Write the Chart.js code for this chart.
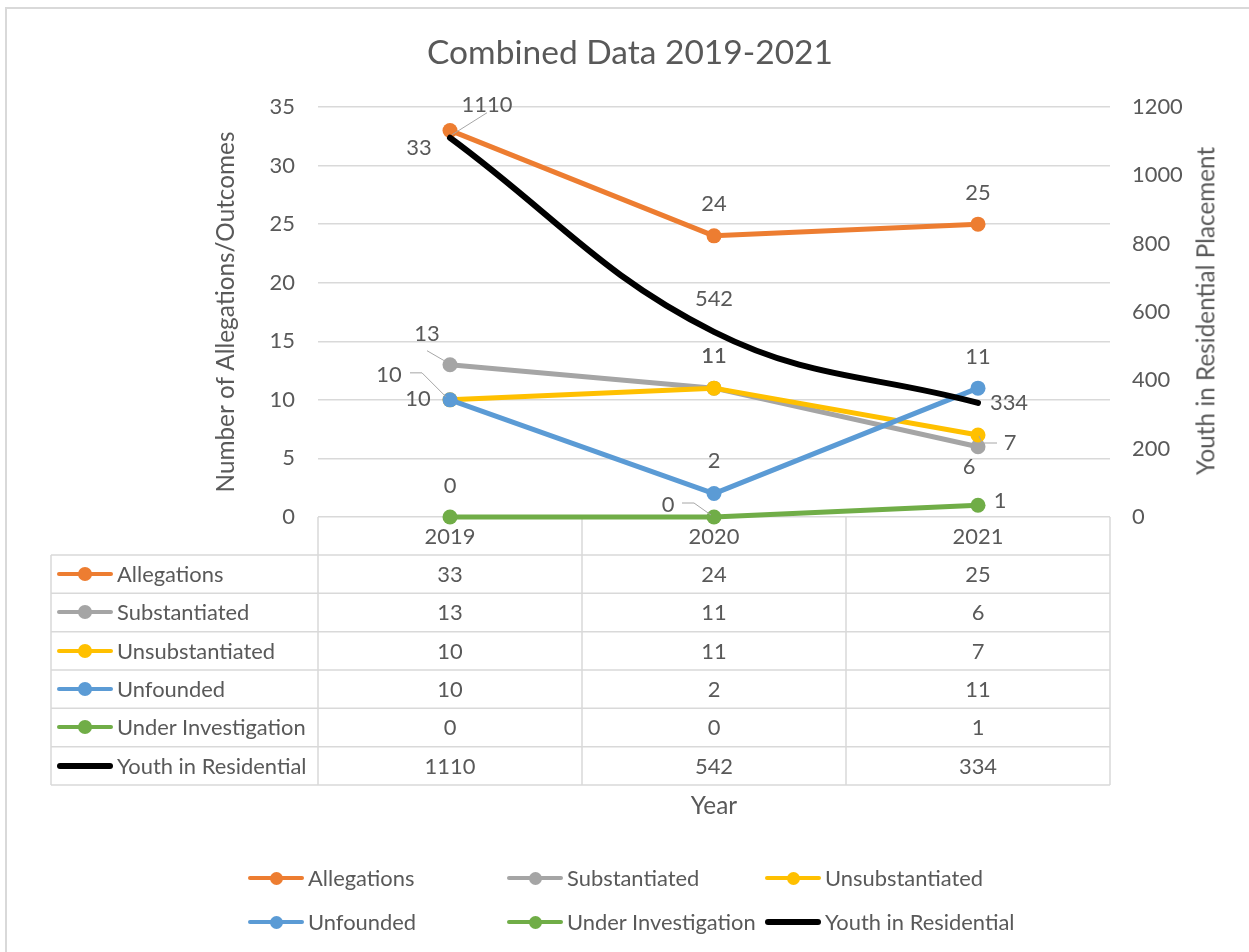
<!DOCTYPE html>
<html><head><meta charset="utf-8">
<script src="https://cdn.jsdelivr.net/npm/chart.js@4.4.0/dist/chart.umd.min.js"></script>
<style>
html,body{margin:0;padding:0;background:#fff;}
#wrap{position:relative;width:1249px;height:952px;overflow:hidden;font-family:Lato,sans-serif;color:#595959;}
#c{position:absolute;left:0;top:0;}
.t{position:absolute;white-space:nowrap;line-height:1.2;}
.key{position:absolute;}
.key .ln{position:absolute;border-radius:3px;}
.key .dot{position:absolute;border-radius:50%;}
</style></head><body>
<div id="wrap"><canvas id="c" width="1249" height="952"></canvas></div>
<script>
// ---------- data ----------
const categories = ['2019', '2020', '2021'];
const seriesNames = ['Allegations', 'Substantiated', 'Unsubstantiated', 'Unfounded', 'Under Investigation', 'Youth in Residential'];
const allegations = [33, 24, 25];
const substantiated = [13, 11, 6];
const unsubstantiated = [10, 11, 7];
const unfounded = [10, 2, 11];
const underInvestigation = [0, 0, 1];
const youthInResidential = [1110, 542, 334];
const leftAxisRange = [0, 35, 5];      // min, max, step
const rightAxisRange = [0, 1200, 200]; // min, max, step
const titleText = 'Combined Data 2019-2021';
const leftTitle = 'Number of Allegations/Outcomes';
const rightTitle = 'Youth in Residential Placement';
const xTitle = 'Year';

const seriesValues = [allegations, substantiated, unsubstantiated, unfounded, underInvestigation, youthInResidential];

// ---------- styles ----------
const COLORS = ['#ED7D31', '#A5A5A5', '#FFC000', '#5B9BD5', '#70AD47', '#000000'];
const TEXT = '#595959';
const GRID = '#D9D9D9';
const LEADER = '#A6A6A6';

// label placement relative to each point (dx, dy, optional leader polyline)
const labelLayout = [
  [{dx:-31, dy:18}, {dx:0, dy:-32}, {dx:0, dy:-31}],
  [{dx:-23, dy:-31, leader:[[-23,-14],[-4,-3]]}, {dx:0, dy:-32}, {dx:-9, dy:20}],
  [{dx:-61, dy:-25, leader:[[-40,-27],[-28,-27],[-4,-3]]}, {dx:0, dy:-32}, {dx:32, dy:8, leader:[[1,1],[4,8],[19,8]]}],
  [{dx:-32, dy:-1}, {dx:0, dy:-33}, {dx:0, dy:-31}],
  [{dx:0, dy:-31}, {dx:-46, dy:-12, leader:[[-32,-14],[-20,-14],[-3,-2]]}, {dx:22, dy:-4}],
  [{dx:37, dy:-33, leader:[[37,-25],[2,-3]]}, {dx:0, dy:-33}, {dx:31, dy:0}]
];

function measure(str, size) {
  const c = document.createElement('canvas').getContext('2d');
  c.font = size + 'px Lato';
  return c.measureText(str).width;
}
const base = 106.5 / measure('Allegations', 100) * 100;
const titleSize = base * 1.53;
const axisSize = base * 1.111;

const PLOT_LEFT = 318, PLOT_TOP = 107, PLOT_BOTTOM = 517, PLOT_RIGHT = 1110;
const PAD_LEFT = 200, PAD_RIGHT = 16;
const TABLE_LEFT = 51, HEADER_BOTTOM = 555, ROW_H = 38.33;

const datasets = seriesNames.map((name, i) => ({
  label: name,
  data: seriesValues[i],
  borderColor: COLORS[i],
  backgroundColor: COLORS[i],
  pointBackgroundColor: COLORS[i],
  pointBorderColor: COLORS[i],
  pointBorderWidth: 0,
  borderWidth: i === 5 ? 6 : 5,
  pointRadius: i === 5 ? 0 : 7.5,
  pointHoverRadius: i === 5 ? 0 : 7.5,
  tension: i === 5 ? 0.4 : 0,
  borderCapStyle: 'round',
  borderJoinStyle: 'round',
  clip: false,
  yAxisID: i === 5 ? 'y1' : 'y',
  order: 5 - i
}));

const labelPlugin = {
  id: 'dataLabels',
  afterDatasetsDraw(chart) {
    const c = chart.ctx;
    c.save();
    c.font = base + 'px Lato';
    c.fillStyle = TEXT;
    c.textAlign = 'center';
    c.textBaseline = 'middle';
    chart.data.datasets.forEach((ds, i) => {
      const meta = chart.getDatasetMeta(i);
      meta.data.forEach((pt, j) => {
        const L = labelLayout[i][j];
        if (L.leader) {
          c.beginPath();
          c.strokeStyle = LEADER;
          c.lineWidth = 1;
          L.leader.forEach(([dx, dy], k) => {
            if (k === 0) c.moveTo(pt.x + dx, pt.y + dy); else c.lineTo(pt.x + dx, pt.y + dy);
          });
          c.stroke();
        }
        c.fillText(String(ds.data[j]), pt.x + L.dx, pt.y + L.dy);
      });
    });
    c.restore();
  }
};

const tablePlugin = {
  id: 'dataTable',
  beforeDatasetsDraw(chart) {
    const c = chart.ctx;
    const a = chart.chartArea;
    const xs = chart.scales.x;
    const px = categories.map((_, i) => xs.getPixelForValue(i));
    const cols = [a.left];
    for (let i = 0; i < px.length - 1; i++) cols.push((px[i] + px[i + 1]) / 2);
    cols.push(a.right);
    const tableBottom = HEADER_BOTTOM + ROW_H * seriesNames.length;
    c.save();
    c.strokeStyle = GRID;
    c.lineWidth = 1.5;
    c.beginPath();
    cols.forEach(x => { c.moveTo(x, a.bottom); c.lineTo(x, tableBottom); });
    c.moveTo(TABLE_LEFT, HEADER_BOTTOM); c.lineTo(TABLE_LEFT, tableBottom);
    for (let r = 0; r <= seriesNames.length; r++) {
      const y = HEADER_BOTTOM + ROW_H * r;
      c.moveTo(TABLE_LEFT, y); c.lineTo(a.right, y);
    }
    c.stroke();
    // outer chart border (top and left visible)
    c.lineWidth = 2;
    c.beginPath();
    c.moveTo(6, 1000); c.lineTo(6, 8); c.lineTo(1300, 8);
    c.stroke();
    c.restore();
  }
};

const tickFont = {family: 'Lato', size: base};
const chart = new Chart(document.getElementById('c'), {
  type: 'line',
  data: {labels: categories, datasets},
  options: {
    responsive: false,
    animation: false,
    devicePixelRatio: 1,
    layout: {padding: {left: PAD_LEFT, right: PAD_RIGHT, top: PLOT_TOP, bottom: 952 - PLOT_BOTTOM}},
    plugins: {
      legend: {display: false},
      tooltip: {enabled: false},
      title: {display: false}
    },
    scales: {
      x: {type: 'category', display: false, offset: true},
      y: {
        position: 'left', min: leftAxisRange[0], max: leftAxisRange[1],
        ticks: {stepSize: leftAxisRange[2], color: TEXT, font: tickFont, padding: 23,
          callback: v => String(v)},
        grid: {color: GRID, lineWidth: 1.5, drawTicks: false},
        border: {display: false},
        title: {display: true, text: leftTitle, color: TEXT,
          font: {family: 'Lato', size: axisSize, lineHeight: 1.2},
          padding: {top: 226 - PAD_LEFT - axisSize * 0.6, bottom: 0}},
        afterFit(s) { s.width = PLOT_LEFT - PAD_LEFT; }
      },
      y1: {
        position: 'right', min: rightAxisRange[0], max: rightAxisRange[1],
        ticks: {stepSize: rightAxisRange[2], color: TEXT, font: tickFont, padding: 22,
          callback: v => String(v)},
        grid: {display: false, drawTicks: false},
        border: {display: false},
        afterFit(s) { s.width = 1249 - PAD_RIGHT - PLOT_RIGHT; }
      }
    }
  },
  plugins: [labelPlugin, tablePlugin]
});

// ---------- HTML text: title, table, axis titles, legend ----------
const wrap = document.getElementById('wrap');
function addText(txt, x, y, size, align, rotate) {
  const d = document.createElement('div');
  d.className = 't';
  d.textContent = txt;
  d.style.fontSize = size + 'px';
  d.style.left = x + 'px';
  d.style.top = y + 'px';
  let tf = align === 'left' ? 'translate(0,-50%)' : 'translate(-50%,-50%)';
  if (rotate) tf += ' rotate(' + rotate + 'deg)';
  d.style.transform = tf;
  wrap.appendChild(d);
  return d;
}
function addKey(i, x0, len, yc, lineW, dotR) {
  const k = document.createElement('div');
  k.className = 'key';
  k.style.left = x0 + 'px';
  k.style.top = yc + 'px';
  const ln = document.createElement('div');
  ln.className = 'ln';
  const lw = i === 5 ? lineW + 2 : lineW;
  ln.style.cssText = `left:0;top:${-lw/2}px;width:${len}px;height:${lw}px;background:${COLORS[i]}`;
  k.appendChild(ln);
  if (i !== 5) {
    const dt = document.createElement('div');
    dt.className = 'dot';
    dt.style.cssText = `left:${len/2 - dotR}px;top:${-dotR}px;width:${dotR*2}px;height:${dotR*2}px;background:${COLORS[i]}`;
    k.appendChild(dt);
  }
  wrap.appendChild(k);
}

addText(titleText, 630, 51, titleSize, 'center');

const xs = chart.scales.x;
const colCenters = categories.map((_, i) => xs.getPixelForValue(i));
categories.forEach((cat, i) => addText(cat, colCenters[i], (PLOT_BOTTOM + HEADER_BOTTOM) / 2, base, 'center'));
seriesNames.forEach((name, r) => {
  const yc = HEADER_BOTTOM + ROW_H * (r + 0.5);
  addKey(r, 57, 56, yc, 4, 7);
  addText(name, 117, yc, base, 'left');
  seriesValues[r].forEach((v, j) => addText(String(v), colCenters[j], yc, base, 'center'));
});

// axis titles
addText(rightTitle, 1205, 311, axisSize, 'center', -90);
addText(xTitle, (chart.chartArea.left + chart.chartArea.right) / 2, 805, axisSize, 'center');

// legend
const legendCols = [248, 507, 765];
const legendRows = [878, 922];
seriesNames.forEach((name, i) => {
  const x0 = legendCols[i % 3];
  const yc = legendRows[Math.floor(i / 3)];
  addKey(i, x0, 56, yc, 4, 6.5);
  addText(name, x0 + 60, yc, base, 'left');
});
</script>
</body></html>
